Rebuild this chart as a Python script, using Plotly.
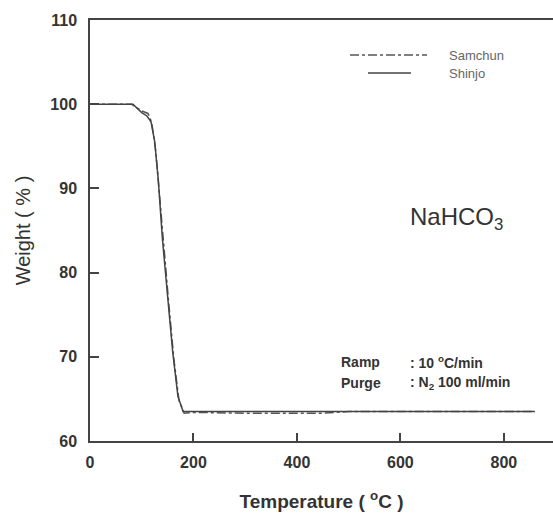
import plotly.graph_objects as go

# Data
temp_shinjo = [0, 50, 83, 100, 110, 118, 125, 132, 140, 150, 160, 170, 180, 200, 300, 400, 500, 600, 700, 800, 860]
weight_shinjo = [100, 100, 100, 99.0, 98.6, 97.9, 95.6, 91.0, 84.0, 77.2, 70.5, 65.3, 63.5, 63.5, 63.5, 63.5, 63.5, 63.5, 63.5, 63.5, 63.5]

temp_samchun = [0, 50, 80, 100, 112, 116, 120, 127, 134, 142, 152, 162, 172, 182, 200, 300, 450, 500, 860]
weight_samchun = [100, 100, 100, 99.2, 98.9, 98.4, 97.5, 94.5, 89.5, 82.8, 76.5, 69.8, 64.8, 63.3, 63.4, 63.3, 63.3, 63.5, 63.5]

x_ticks = [0, 200, 400, 600, 800]
y_ticks = [60, 70, 80, 90, 100, 110]

W, H = 553, 513
L, R, T, B = 90, 0, 20, 72
PW, PH = W - L - R, H - T - B

def px(x):
    return (x - L) / PW

def py(y):
    return (H - B - y) / PH

line_col = "#444444"
font = "Liberation Sans, Arial, sans-serif"

fig = go.Figure()
fig.add_trace(go.Scatter(x=temp_samchun, y=weight_samchun, mode="lines", name="Samchun",
                         line=dict(color="#555555", width=1.5, dash="dashdot")))
fig.add_trace(go.Scatter(x=temp_shinjo, y=weight_shinjo, mode="lines", name="Shinjo",
                         line=dict(color="#444444", width=1.5)))

fig.update_layout(
    width=W, height=H,
    margin=dict(l=L, r=R, t=T, b=B),
    paper_bgcolor="white", plot_bgcolor="white",
    showlegend=False,
    font=dict(family=font, color="#333333"),
    xaxis=dict(range=[0, 895], tickvals=x_ticks, ticks="inside", ticklen=8, tickwidth=1.5,
               tickcolor=line_col, showline=True, linecolor=line_col, linewidth=1.5, mirror=True,
               showgrid=False, zeroline=False, ticklabelstandoff=6,
               tickfont=dict(size=16, family=font, color="#333333", weight="bold"),
               title=dict(text="Temperature ( <sup>o</sup>C )", standoff=25,
                          font=dict(size=19, family=font, color="#333333", weight="bold"))),
    yaxis=dict(range=[60, 110], tickvals=y_ticks, ticks="inside", ticklen=9, tickwidth=1.5,
               tickcolor=line_col, showline=True, linecolor=line_col, linewidth=1.5,
               showgrid=False, zeroline=False, ticklabelstandoff=8,
               tickfont=dict(size=16, family=font, color="#333333", weight="bold"),
               title=dict(text="Weight ( % )", standoff=14,
                          font=dict(size=20, family=font, color="#333333"))),
)

# Legend drawn manually
fig.add_shape(type="line", xref="paper", yref="paper", x0=px(350), x1=px(427), y0=py(55), y1=py(55),
              line=dict(color="#555555", width=1.5, dash="dashdot"))
fig.add_shape(type="line", xref="paper", yref="paper", x0=px(368), x1=px(411), y0=py(73), y1=py(73),
              line=dict(color="#444444", width=1.5))
fig.add_annotation(xref="paper", yref="paper", x=px(447), y=py(55), text="Samchun", showarrow=False,
                   xanchor="left", yanchor="middle", font=dict(size=13, color="#666666", family=font))
fig.add_annotation(xref="paper", yref="paper", x=px(447), y=py(73), text="Shinjo", showarrow=False,
                   xanchor="left", yanchor="middle", font=dict(size=13, color="#666666", family=font))

fig.add_annotation(xref="paper", yref="paper", x=px(408), y=py(218), text="NaHCO<sub>3</sub>",
                   showarrow=False, xanchor="left", yanchor="middle",
                   font=dict(size=24, color="#333333", family=font))

fig.add_annotation(xref="paper", yref="paper", x=px(339), y=py(362), text="Ramp",
                   showarrow=False, xanchor="left", yanchor="middle",
                   font=dict(size=14, color="#333333", family=font, weight="bold"))
fig.add_annotation(xref="paper", yref="paper", x=px(339), y=py(383), text="Purge",
                   showarrow=False, xanchor="left", yanchor="middle",
                   font=dict(size=14, color="#333333", family=font, weight="bold"))
fig.add_annotation(xref="paper", yref="paper", x=px(408), y=py(362), text=": 10 <sup>o</sup>C/min",
                   showarrow=False, xanchor="left", yanchor="middle",
                   font=dict(size=14, color="#333333", family=font, weight="bold"))
fig.add_annotation(xref="paper", yref="paper", x=px(408), y=py(383), text=": N<sub>2</sub> 100 ml/min",
                   showarrow=False, xanchor="left", yanchor="middle",
                   font=dict(size=14, color="#333333", family=font, weight="bold"))

fig.write_html("out.html")
